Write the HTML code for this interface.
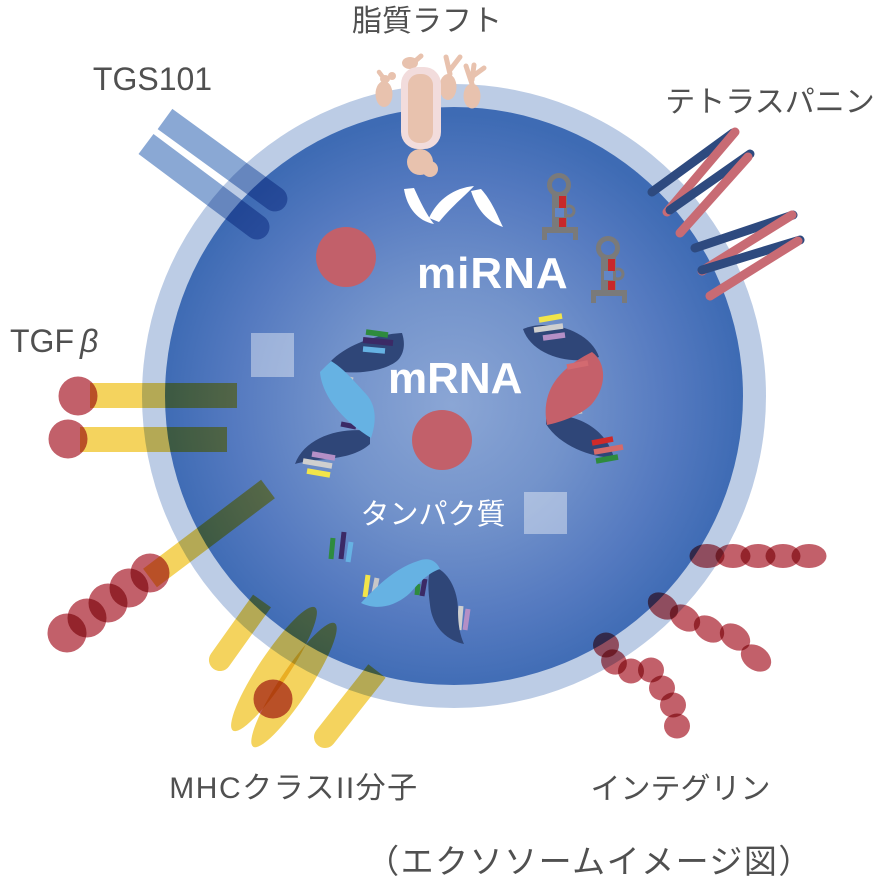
<!DOCTYPE html>
<html><head><meta charset="utf-8"><style>
html,body{margin:0;padding:0;background:#fff;}
svg{display:block;}
.m{mix-blend-mode:multiply;}
.lab{font-family:"Liberation Sans","Noto Sans CJK JP",sans-serif;fill:#505050;}
</style></head><body>
<svg width="883" height="891" viewBox="0 0 883 891" xmlns="http://www.w3.org/2000/svg">
<defs>
<radialGradient id="g" cx="452" cy="405" r="290" gradientUnits="userSpaceOnUse">
<stop offset="0" stop-color="#8ba6d5"/>
<stop offset="0.4" stop-color="#7393cb"/>
<stop offset="0.75" stop-color="#557ac0"/>
<stop offset="1" stop-color="#3e6bb4"/>
</radialGradient>
</defs>
<rect width="883" height="891" fill="#fff"/>
<circle cx="454" cy="396" r="312" fill="#bccce5"/>
<circle cx="454" cy="396" r="289" fill="url(#g)"/>

<rect x="251" y="333" width="43" height="44" fill="#fff" fill-opacity="0.4"/>
<rect x="524" y="492" width="43" height="42" fill="#fff" fill-opacity="0.4"/>

<circle cx="346" cy="257" r="30" fill="#c2606a"/>
<circle cx="442" cy="440" r="30" fill="#c2606a"/>

<g fill="#fff">
<path d="M404,189 C407,208 418,221 434,224 C426,214 420,201 414,188 Z"/>
<path d="M429,218 C438,199 454,188 474,186 C466,195 454,204 439,222 Z"/>
<path d="M471,191 C477,210 488,222 503,227 C497,215 492,201 481,189 Z"/>
</g>

<g>
<circle cx="559" cy="185" r="9.5" fill="none" stroke="#7a7a7a" stroke-width="5"/>
<rect x="552" y="193" width="15" height="38" fill="#7a7a7a"/>
<circle cx="569" cy="211" r="5" fill="none" stroke="#7a7a7a" stroke-width="3"/>
<rect x="555" y="208" width="9" height="9" fill="#6286c6"/>
<rect x="559" y="196" width="7" height="12" fill="#c8282a"/>
<rect x="559" y="218" width="7" height="14" fill="#c8282a"/>
<rect x="542" y="227" width="36" height="6" fill="#7a7a7a"/>
<rect x="542" y="227" width="5" height="13" fill="#7a7a7a"/>
<rect x="573" y="227" width="5" height="13" fill="#7a7a7a"/>
</g>
<g transform="translate(49,63)">
<circle cx="559" cy="185" r="9.5" fill="none" stroke="#7a7a7a" stroke-width="5"/>
<rect x="552" y="193" width="15" height="38" fill="#7a7a7a"/>
<circle cx="569" cy="211" r="5" fill="none" stroke="#7a7a7a" stroke-width="3"/>
<rect x="555" y="208" width="9" height="9" fill="#6286c6"/>
<rect x="559" y="196" width="7" height="12" fill="#c8282a"/>
<rect x="559" y="218" width="7" height="14" fill="#c8282a"/>
<rect x="542" y="227" width="36" height="6" fill="#7a7a7a"/>
<rect x="542" y="227" width="5" height="13" fill="#7a7a7a"/>
<rect x="573" y="227" width="5" height="13" fill="#7a7a7a"/>
</g>

<g stroke-linecap="butt">
<line x1="338" y1="377" x2="353" y2="380" stroke="#c8c8c8" stroke-width="5"/>
<line x1="341" y1="424" x2="356" y2="427" stroke="#3b2a66" stroke-width="5"/>
</g>
<path d="M402,333 C380,334 342,344 325,368 C345,376 384,373 398,360 C405,352 405,342 402,333 Z" fill="#2f4678"/>
<path d="M370,431 C340,427 305,437 295,464 C318,457 350,462 370,444 Z" fill="#2f4678"/>
<path d="M320,372 C322,396 342,420 371,438 C377,420 376,405 366,394 C353,380 343,368 331,361 Z" fill="#66b2e3"/>
<g stroke-linecap="butt" stroke-width="5.5">
<line x1="366" y1="332" x2="388" y2="335" stroke="#2e8b3e"/>
<line x1="363" y1="340" x2="393" y2="343" stroke="#3b2a66" stroke-width="6"/>
<line x1="363" y1="349" x2="385" y2="351" stroke="#66b2e3"/>
<line x1="312" y1="454" x2="335" y2="458" stroke="#b48fc6"/>
<line x1="303" y1="461" x2="332" y2="466" stroke="#cfcfcf"/>
<line x1="307" y1="471" x2="330" y2="475" stroke="#f2e54a"/>
</g>

<g stroke-linecap="butt" stroke-width="5">
<line x1="563" y1="414" x2="582" y2="411" stroke="#c8c8c8"/>
</g>
<path d="M523,329 C548,318 590,330 599,357 C572,366 532,356 523,329 Z" fill="#2f4678"/>
<path d="M546,416 C575,412 606,428 614,458 C590,457 560,446 546,424 Z" fill="#2f4678"/>
<path d="M592,352 C606,362 608,386 591,405 C579,416 561,422 547,425 C543,405 548,388 560,375 C570,364 582,357 592,352 Z" fill="#c5606a"/>
<g stroke-linecap="butt" stroke-width="5.5">
<line x1="567" y1="367" x2="588" y2="363" stroke="#d36a70"/>
<line x1="539" y1="320" x2="562" y2="316" stroke="#f2e54a"/>
<line x1="534" y1="330" x2="563" y2="326" stroke="#cfcfcf"/>
<line x1="543" y1="338" x2="565" y2="335" stroke="#b48fc6"/>
<line x1="592" y1="443" x2="613" y2="439" stroke="#cf2a2a"/>
<line x1="594" y1="452" x2="623" y2="447" stroke="#d46a6a"/>
<line x1="596" y1="461" x2="618" y2="457" stroke="#2e8b3e"/>
</g>

<g stroke-linecap="butt" stroke-width="5">
<line x1="333" y1="538" x2="331" y2="559" stroke="#2e8b3e"/>
<line x1="344" y1="532" x2="341" y2="559" stroke="#3b2a66"/>
<line x1="351" y1="542" x2="348" y2="562" stroke="#66b2e3"/>
<line x1="418" y1="584" x2="417" y2="595" stroke="#2e8b3e"/>
<line x1="425" y1="579" x2="422" y2="596" stroke="#3b2a66"/>
<line x1="461" y1="606" x2="459" y2="630" stroke="#cfcfcf"/>
<line x1="468" y1="609" x2="465" y2="630" stroke="#b48fc6"/>
<line x1="368" y1="575" x2="365" y2="597" stroke="#f2e54a"/>
<line x1="377" y1="578" x2="374" y2="593" stroke="#c8c8c8"/>
</g>
<path d="M432,566 C448,570 458,590 458,610 C458,625 460,635 464,644 C445,640 432,625 430,605 C428,590 427,575 432,566 Z" fill="#2f4678"/>
<path d="M361,603 C375,588 395,568 418,561 C428,557 436,560 440,569 C428,573 420,582 410,593 C398,604 380,612 361,603 Z" fill="#66b2e3"/>

<text x="417" y="288" font-family="Liberation Sans, sans-serif" font-weight="bold" font-size="44" letter-spacing="1" fill="#fff">miRNA</text>
<text x="388" y="393" font-family="Liberation Sans, sans-serif" font-weight="bold" font-size="44" fill="#fff">mRNA</text>
<text x="433" y="524" text-anchor="middle" font-family="Liberation Sans, Noto Sans CJK JP, sans-serif" font-size="29" fill="#fff">タンパク質</text>

<path class="m" d="M172.35,108.89 L282.35,188.89 A12.5,12.5 0 0 1 267.65,209.11 L157.65,129.11 Z" fill="#8aa8d4"/>
<path class="m" d="M153.49,133.99 L264.49,216.99 A12.5,12.5 0 0 1 249.51,237.01 L138.51,154.01 Z" fill="#8aa8d4"/>

<rect class="m" x="90" y="383" width="147" height="25" fill="#f4d35e"/>
<rect class="m" x="80" y="427" width="147" height="25" fill="#f4d35e"/>
<circle class="m" cx="78" cy="396" r="19.5" fill="#c2606a"/>
<circle class="m" cx="68" cy="439" r="19.5" fill="#c2606a"/>

<path class="m" d="M156.9,587.2 L274.9,498.2 L261.1,479.8 L143.1,568.8 Z" fill="#f4d35e"/>
<circle class="m" cx="150" cy="573" r="19.5" fill="#c2606a"/>
<circle class="m" cx="129" cy="588" r="19.5" fill="#c2606a"/>
<circle class="m" cx="108" cy="603" r="19.5" fill="#c2606a"/>
<circle class="m" cx="87" cy="618" r="19.5" fill="#c2606a"/>
<circle class="m" cx="67" cy="633" r="19.5" fill="#c2606a"/>

<path class="m" d="M253.03,594.62 L271,607.4 L229,666.4 A11,11 0 0 1 211,653.6 Z" fill="#f4d35e"/>
<path class="m" d="M368.35,664.19 L385.65,677.81 L333.65,743.81 A11,11 0 0 1 316.35,730.19 Z" fill="#f4d35e"/>
<ellipse class="m" cx="274" cy="669" rx="74" ry="15" transform="rotate(-56.3 274 669)" fill="#f4d35e"/>
<ellipse class="m" cx="294" cy="685" rx="74" ry="15" transform="rotate(-56.5 294 685)" fill="#f4d35e"/>
<circle class="m" cx="273" cy="699" r="19.5" fill="#c2606a"/>

<g fill="#c2606a">
<ellipse class="m" cx="707" cy="556" rx="17.5" ry="12"/>
<ellipse class="m" cx="733" cy="556" rx="17.5" ry="12"/>
<ellipse class="m" cx="758" cy="556" rx="17.5" ry="12"/>
<ellipse class="m" cx="783" cy="556" rx="17.5" ry="12"/>
<ellipse class="m" cx="809" cy="556" rx="17.5" ry="12"/>
<ellipse class="m" cx="663" cy="606" rx="16.5" ry="12" transform="rotate(35 663 606)"/>
<ellipse class="m" cx="685" cy="618" rx="16.5" ry="12" transform="rotate(35 685 618)"/>
<ellipse class="m" cx="709" cy="629" rx="16.5" ry="12" transform="rotate(35 709 629)"/>
<ellipse class="m" cx="735" cy="637" rx="16.5" ry="12" transform="rotate(35 735 637)"/>
<ellipse class="m" cx="756" cy="658" rx="16.5" ry="12" transform="rotate(35 756 658)"/>
<ellipse class="m" cx="606" cy="645" rx="13" ry="12.5"/>
<ellipse class="m" cx="614" cy="662" rx="13.5" ry="12" transform="rotate(40 614 662)"/>
<ellipse class="m" cx="631" cy="671" rx="13" ry="12.5"/>
<ellipse class="m" cx="651" cy="670" rx="13" ry="12.5"/>
<ellipse class="m" cx="662" cy="688" rx="13" ry="12.5"/>
<ellipse class="m" cx="673" cy="705" rx="13" ry="12.5"/>
<ellipse class="m" cx="677" cy="726" rx="13" ry="12.5"/>
</g>

<g stroke-width="9" stroke-linecap="round">
<line x1="652" y1="192" x2="733" y2="133" stroke="#2e4a7f"/>
<line x1="735" y1="132" x2="667" y2="212" stroke="#c86b74"/>
<line x1="670" y1="210" x2="750" y2="154" stroke="#2e4a7f"/>
<line x1="748" y1="157" x2="680" y2="233" stroke="#c86b74"/>
<line x1="695" y1="248" x2="793" y2="215" stroke="#2e4a7f"/>
<line x1="792" y1="215" x2="702" y2="271" stroke="#c86b74"/>
<line x1="702" y1="270" x2="800" y2="240" stroke="#2e4a7f"/>
<line x1="798" y1="241" x2="710" y2="296" stroke="#c86b74"/>
</g>

<g fill="#e8c2ae">
<ellipse cx="384" cy="94" rx="8.5" ry="13"/>
<ellipse cx="385" cy="79" rx="5" ry="4"/>
<ellipse cx="392" cy="76" rx="4" ry="4"/>
<line x1="385" y1="80" x2="379" y2="72" stroke="#e8c2ae" stroke-width="4.5" stroke-linecap="round"/>
<ellipse cx="448" cy="87" rx="8.5" ry="13"/>
<line x1="450" y1="74" x2="446" y2="57" stroke="#e8c2ae" stroke-width="5" stroke-linecap="round"/>
<line x1="450" y1="70" x2="460" y2="57" stroke="#e8c2ae" stroke-width="5" stroke-linecap="round"/>
<ellipse cx="472" cy="96" rx="8.5" ry="12.5"/>
<line x1="472" y1="84" x2="466" y2="66" stroke="#e8c2ae" stroke-width="5" stroke-linecap="round"/>
<line x1="472" y1="80" x2="474" y2="65" stroke="#e8c2ae" stroke-width="5" stroke-linecap="round"/>
<line x1="473" y1="76" x2="484" y2="68" stroke="#e8c2ae" stroke-width="5" stroke-linecap="round"/>
<circle cx="420" cy="162" r="13"/>
<circle cx="430" cy="169" r="8"/>
<ellipse cx="410" cy="63" rx="8" ry="6"/>
<line x1="413" y1="63" x2="421" y2="56" stroke="#e8c2ae" stroke-width="5" stroke-linecap="round"/>
</g>
<rect x="401" y="67" width="40" height="82" rx="17" fill="#f2dcdc"/>
<rect x="408" y="74" width="25" height="69" rx="11" fill="#e8c2ae"/>

<text class="lab" x="427" y="31" text-anchor="middle" font-size="30">脂質ラフト</text>
<text class="lab" x="152.5" y="90" text-anchor="middle" font-size="32">TGS101</text>
<text class="lab" x="770" y="112" text-anchor="middle" font-size="30">テトラスパニン</text>
<text class="lab" x="10" y="352" font-size="32">TGF</text>
<text class="lab" x="80" y="352" font-size="32" font-style="italic">β</text>
<text class="lab" x="294" y="798" text-anchor="middle" font-size="30" letter-spacing="1.5">MHCクラスII分子</text>
<text class="lab" x="680.5" y="799" text-anchor="middle" font-size="30">インテグリン</text>
<text class="lab" x="589.5" y="873" text-anchor="middle" font-size="33" letter-spacing="1.5">（エクソソームイメージ図）</text>
</svg>
</body></html>
